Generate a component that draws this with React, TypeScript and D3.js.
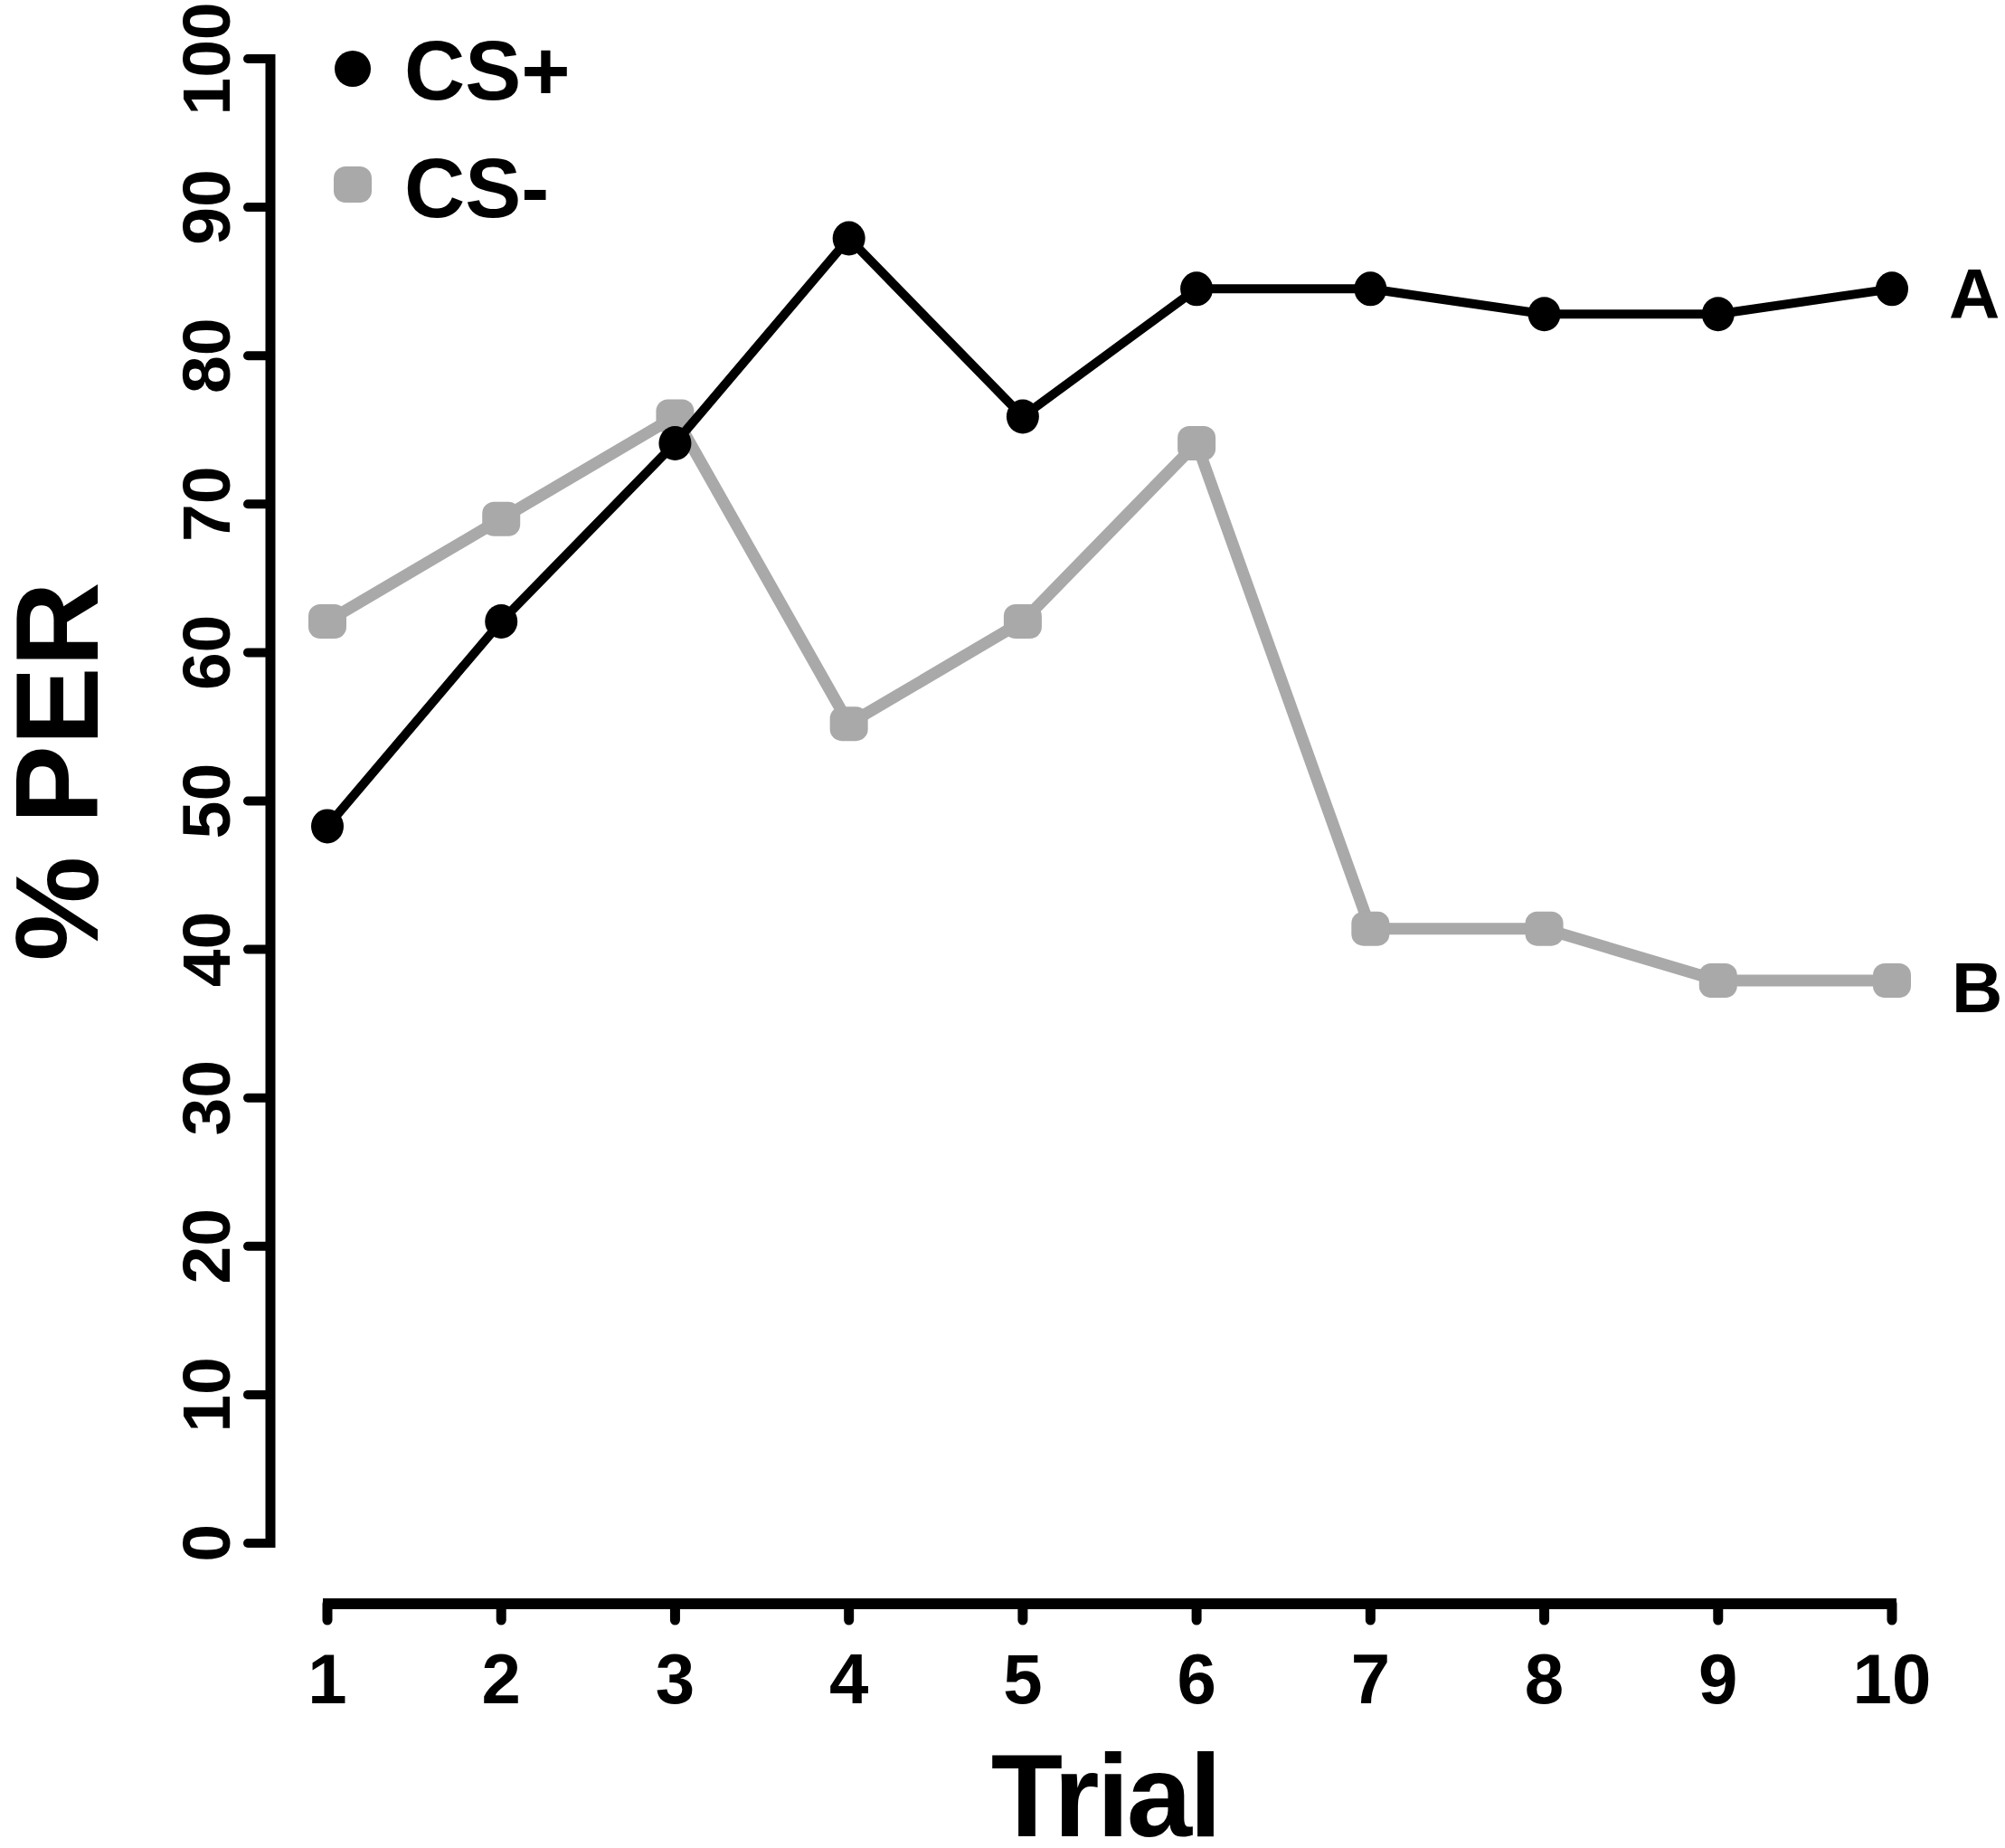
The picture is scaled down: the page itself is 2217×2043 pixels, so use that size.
import React from "react";
import * as d3 from "d3";

const trials = [1, 2, 3, 4, 5, 6, 7, 8, 9, 10];
const csPlus = [48.3, 62.1, 74.1, 87.9, 75.9, 84.5, 84.5, 82.8, 82.8, 84.5];
const csMinus = [62.1, 69.0, 75.9, 55.2, 62.1, 74.1, 41.4, 41.4, 37.9, 37.9];
const yTicks = [0, 10, 20, 30, 40, 50, 60, 70, 80, 90, 100];
const seriesNames = ["CS+", "CS-"];
const endLabels = ["A", "B"];

const W = 2217;
const H = 2043;
const FONT = "'Liberation Sans', Arial, Helvetica, sans-serif";
const GRAY = "#a9a9a9";

export default function App() {
  const x = d3.scaleLinear().domain([1, 10]).range([362, 2092]);
  const y = d3.scaleLinear().domain([0, 100]).range([1706, 65]);
  const line = d3
    .line<number>()
    .x((_, i) => x(trials[i]))
    .y((d) => y(d));

  const yAxisX = 299;
  const xAxisY = 1773;

  return (
    <svg
      width={W}
      height={H}
      viewBox={`0 0 ${W} ${H}`}
      style={{ position: "absolute", left: 0, top: 0, background: "#fff" }}
    >
      <rect x={0} y={0} width={W} height={H} fill="#fff" />
      {/* Y axis */}
      <line x1={yAxisX} x2={yAxisX} y1={y(100) - 5} y2={y(0) + 5} stroke="#000" strokeWidth={11} />
      {yTicks.map((t) => (
        <g key={t}>
          <line x1={yAxisX} x2={274} y1={y(t)} y2={y(t)} stroke="#000" strokeWidth={10} strokeLinecap="round" />
          <text
            transform={`translate(254, ${y(t)}) rotate(-90)`}
            textAnchor="middle"
            fontFamily={FONT}
            fontWeight="bold"
            fontSize={75}
            fill="#000"
          >
            {t}
          </text>
        </g>
      ))}
      {/* X axis */}
      <line x1={x(1) - 5} x2={x(10) + 5} y1={xAxisY} y2={xAxisY} stroke="#000" strokeWidth={12} />
      {trials.map((t) => (
        <g key={t}>
          <line x1={x(t)} x2={x(t)} y1={xAxisY} y2={1791} stroke="#000" strokeWidth={11} strokeLinecap="round" />
          <text
            x={x(t)}
            y={1883}
            textAnchor="middle"
            fontFamily={FONT}
            fontWeight="bold"
            fontSize={78}
            fill="#000"
          >
            {t}
          </text>
        </g>
      ))}
      {/* Axis titles */}
      <text
        transform={`translate(108, 853) rotate(-90)`}
        textAnchor="middle"
        fontFamily={FONT}
        fontWeight="bold"
        fontSize={130}
        fill="#000"
      >
        % PER
      </text>
      <text
        x={1222}
        y={2030}
        textAnchor="middle"
        fontFamily={FONT}
        fontWeight="bold"
        fontSize={130}
        letterSpacing={-3}
        fill="#000"
      >
        Trial
      </text>
      {/* CS- series */}
      <path d={line(csMinus) || ""} fill="none" stroke={GRAY} strokeWidth={13} strokeLinejoin="round" />
      {csMinus.map((v, i) => (
        <rect
          key={i}
          x={x(trials[i]) - 21}
          y={y(v) - 19}
          width={42}
          height={38}
          rx={13}
          ry={13}
          fill={GRAY}
        />
      ))}
      {/* CS+ series */}
      <path d={line(csPlus) || ""} fill="none" stroke="#000" strokeWidth={10} strokeLinejoin="round" />
      {csPlus.map((v, i) => (
        <ellipse key={i} cx={x(trials[i])} cy={y(v)} rx={18} ry={19} fill="#000" />
      ))}
      {/* End labels */}
      <text x={2155} y={352} fontFamily={FONT} fontWeight="bold" fontSize={78} fill="#000">
        {endLabels[0]}
      </text>
      <text x={2158} y={1119} fontFamily={FONT} fontWeight="bold" fontSize={78} fill="#000">
        {endLabels[1]}
      </text>
      {/* Legend */}
      <ellipse cx={390} cy={76} rx={20} ry={20} fill="#000" />
      <text x={447} y={110} fontFamily={FONT} fontWeight="bold" fontSize={93} fill="#000">
        {seriesNames[0]}
      </text>
      <rect x={369} y={184} width={42} height={40} rx={13} ry={13} fill={GRAY} />
      <text x={447} y={240} fontFamily={FONT} fontWeight="bold" fontSize={93} fill="#000">
        {seriesNames[1]}
      </text>
    </svg>
  );
}
